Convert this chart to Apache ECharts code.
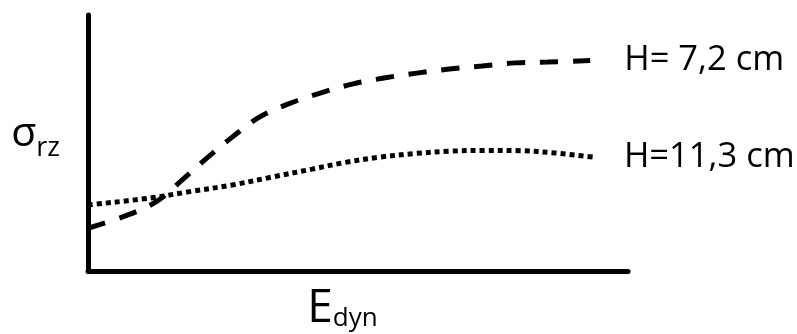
<!DOCTYPE html>
<html>
<head>
<meta charset="utf-8">
<script src="https://cdn.jsdelivr.net/npm/echarts@6/dist/echarts.min.js"></script>
<style>html,body{margin:0;padding:0;background:#fff}#c{width:797px;height:334px}</style>
</head>
<body>
<div id="c"></div>
<script>
// Curve H= 7,2 cm (dashed): [E_dyn, sigma_rz] in relative units (0-100)
const dashedX = [0, 7.4, 12.8, 17.4, 22.0, 26.7, 31.5, 37.0, 43.0, 48.9, 54.8, 60.9, 66.9, 73.0, 79.1, 85.2, 93.0];
const dashedY = [16.7, 21.9, 27.3, 35.5, 44.1, 52.3, 59.8, 65.2, 69.5, 73.0, 75.4, 77.3, 78.9, 80.1, 81.3, 81.6, 82.2];
// Curve H=11,3 cm (dotted)
const dottedX = [0, 11.5, 18.5, 26.7, 34.1, 41.5, 47.6, 54.1, 60.6, 67.0, 73.5, 80.0, 86.5, 93.5];
const dottedY = [25.8, 28.5, 30.9, 33.6, 36.7, 39.8, 42.4, 44.5, 45.9, 46.8, 47.1, 47.0, 46.1, 44.5];
const seriesNames = ['H= 7,2 cm', 'H=11,3 cm'];

const pair = (xs, ys) => xs.map((x, i) => [x, ys[i]]);
const FONT = 'Open Sans';

const chart = echarts.init(document.getElementById('c'), null, {renderer: 'canvas'});
chart.setOption({
  animation: false,
  backgroundColor: '#fff',
  grid: {left: 88, top: 15, width: 540, height: 256, containLabel: false, outerBoundsMode: 'none'},
  xAxis: {
    type: 'value', min: 0, max: 100,
    axisLine: {show: true, onZero: false, lineStyle: {color: '#000', width: 5}},
    axisTick: {show: false}, axisLabel: {show: false}, splitLine: {show: false},
    name: '{a|E}{b|dyn}', nameLocation: 'middle', nameGap: 15,
    nameTextStyle: {
      padding: [0, 31, 0, 0],
      rich: {
        a: {fontFamily: FONT, fontSize: 46, color: '#000', lineHeight: 46, verticalAlign: 'bottom'},
        b: {fontFamily: FONT, fontSize: 26, color: '#000', lineHeight: 26, verticalAlign: 'bottom'}
      }
    }
  },
  yAxis: {
    type: 'value', min: 0, max: 100,
    axisLine: {show: true, onZero: false, lineStyle: {color: '#000', width: 5}},
    axisTick: {show: false}, axisLabel: {show: false}, splitLine: {show: false},
    name: '{a|σ}{b|rz}', nameLocation: 'middle', nameRotate: 0, nameGap: 28,
    nameTextStyle: {
      padding: [0, 0, 18, 0],
      rich: {
        a: {fontFamily: FONT, fontSize: 41, color: '#000', lineHeight: 41, verticalAlign: 'bottom'},
        b: {fontFamily: FONT, fontSize: 27, color: '#000', lineHeight: 27, verticalAlign: 'bottom', padding: [0, 0, -7, 0]}
      }
    }
  },
  series: [
    {
      name: seriesNames[0], type: 'line', data: pair(dashedX, dashedY),
      smooth: 0.35, showSymbol: false, symbol: 'none',
      lineStyle: {color: '#000', width: 5, type: [18, 15], cap: 'butt'},
      endLabel: {show: true, formatter: '{a}', distance: 34, fontFamily: FONT, fontSize: 34.5, color: '#000'}
    },
    {
      name: seriesNames[1], type: 'line', data: pair(dottedX, dottedY),
      smooth: 0.35, showSymbol: false, symbol: 'none',
      lineStyle: {color: '#000', width: 5, type: [5, 4], cap: 'butt'},
      endLabel: {show: true, formatter: '{a}', distance: 31, fontFamily: FONT, fontSize: 34.5, color: '#000'}
    }
  ]
});
</script>
</body>
</html>
